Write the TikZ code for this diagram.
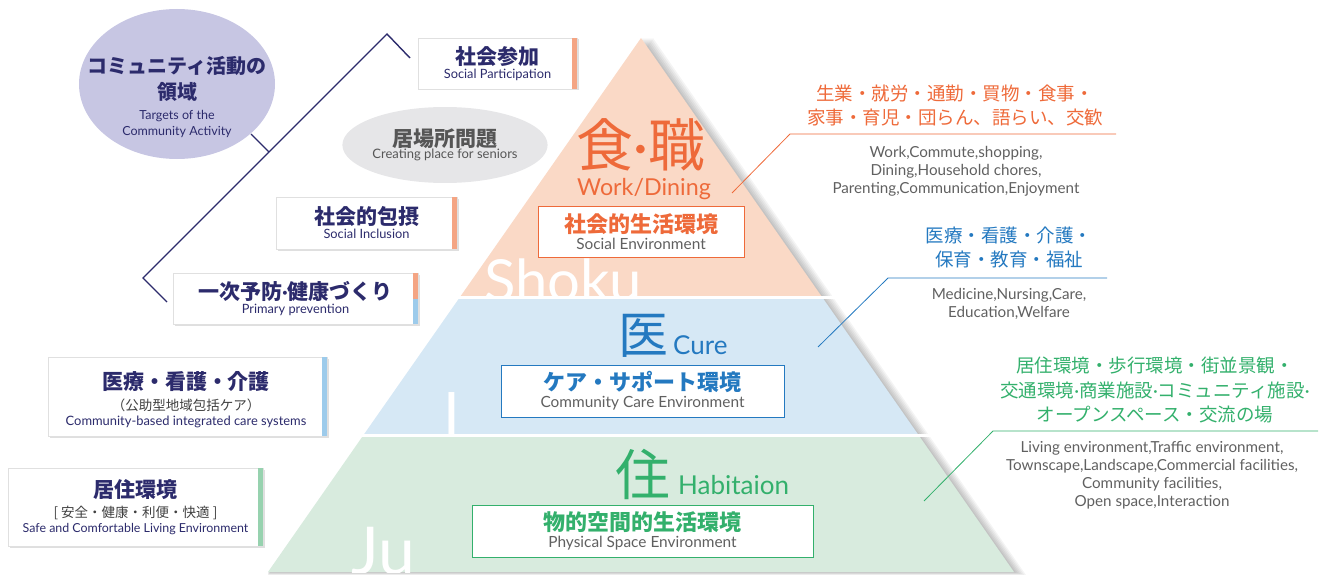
\documentclass[tikz,border=0pt]{standalone}
\usepackage{fontspec}
\setmainfont{Lato}
\newfontfamily\jp{Noto Sans CJK JP}
\usetikzlibrary{shadows,shapes.geometric}
\definecolor{navy}{HTML}{2C2B6C}
\definecolor{lav}{HTML}{C7C6E3}
\definecolor{org}{HTML}{EE6A3A}
\definecolor{orgbar}{HTML}{F4A584}
\definecolor{peach}{HTML}{FAD9C6}
\definecolor{blu}{HTML}{2479C0}
\definecolor{blubar}{HTML}{9DCBEB}
\definecolor{lblu}{HTML}{D6E8F5}
\definecolor{grn}{HTML}{33B06C}
\definecolor{grnbar}{HTML}{97D2AF}
\definecolor{lgrn}{HTML}{D8EBDE}
\definecolor{txtgray}{HTML}{606060}
\definecolor{ellgray}{HTML}{E6E6E8}
\newcommand\hdJ{\jp\bfseries\fontsize{21}{24}\selectfont}
\newcommand\subE{\rmfamily\mdseries\fontsize{12.8}{15}\selectfont}
\newcommand\envJ{\jp\bfseries\fontsize{22}{24}\selectfont}
\newcommand\envE{\rmfamily\mdseries\fontsize{15.4}{16}\selectfont\color{txtgray}}
\newcommand\ellJ{\jp\bfseries\fontsize{20}{26}\selectfont}
\newcommand\ellE{\rmfamily\fontsize{12.5}{16}\selectfont}
\tikzset{
  card/.style={fill=white, draw=black!12, line width=0.5pt,
    drop shadow={shadow xshift=1.5pt, shadow yshift=-1.5pt, opacity=0.25},
    inner sep=0pt, align=center, text=navy},
  envbox/.style={fill=white, line width=0.9pt, inner sep=0pt, align=center},
  bigw/.style={text=white, font=\fontsize{58}{58}\selectfont, inner sep=0pt},
  lead/.style={line width=0.8pt},
  listJ/.style={font=\jp\fontsize{18.5}{24.5}\selectfont, align=center, inner sep=0pt},
  listE/.style={text=txtgray, font=\fontsize{15.2}{18}\selectfont, align=center, inner sep=0pt},
  brk/.style={draw=navy, line width=1.4pt}
}
\begin{document}
\begin{tikzpicture}[x=1pt,y=-1pt]
\useasboundingbox (0,0) rectangle (1322,575);

% ---------- pyramid ----------
\coordinate (apex) at (641,38);
\coordinate (l1) at (460,297); \coordinate (r1) at (822,297);
\coordinate (l2) at (363.5,435); \coordinate (r2) at (918.5,435);
\coordinate (bl) at (268,572); \coordinate (br) at (1014,572);

\foreach \s in {2,4,6,8,10,12}{
  \fill[black,opacity=0.045] ([xshift=\s pt]apex) -- ([xshift=\s pt,yshift=-0.25*\s pt]br)
     -- ([yshift=-0.25*\s pt]bl) -- cycle;
}
\fill[peach] (apex) -- (r1) -- (l1) -- cycle;
\fill[lblu] (l1) -- (r1) -- (r2) -- (l2) -- cycle;
\fill[lgrn] (l2) -- (r2) -- (br) -- (bl) -- cycle;

\begin{scope}
  \clip (apex) -- (r1) -- (l1) -- cycle;
  \node[bigw, anchor=base west] (shokuW) at (484,301) {Shoku};
\end{scope}
\begin{scope}
  \clip (l1) -- (r1) -- (r2) -- (l2) -- cycle;
  \node[bigw, font=\fontsize{60}{60}\selectfont, anchor=base west] (iW) at (443,435) {I};
\end{scope}
\begin{scope}
  \clip (l2) -- (r2) -- (br) -- (bl) -- cycle;
  \node[bigw, font=\fontsize{66}{66}\selectfont, anchor=base west] (juW) at (351,574) {Ju};
\end{scope}

\draw[white, line width=3pt] (440,297) -- (840,297);
\draw[white, line width=3pt] (340,435) -- (940,435);

% top band
\node[text=org, font=\jp\fontsize{57}{57}\selectfont, inner sep=0pt] (shokuK) at (641,145) {食{\rmfamily ·}職};
\node[text=org, font=\fontsize{23.3}{23}\selectfont, inner sep=0pt] (workD) at (644,189) {Work/Dining};
\node[envbox, draw=org, minimum width=206, minimum height=51] (socEnv) at (641,231.5)
  {{\envJ\color{org}社会的生活環境}\\[2.5pt]{\envE Social Environment}};

% middle band
\node[text=blu, font=\jp\fontsize{50}{50}\selectfont, inner sep=0pt] (iK) at (643,336) {医};
\node[text=blu, font=\fontsize{26}{26}\selectfont, inner sep=0pt, anchor=base west] (cure) at (673,354) {Cure};
\node[envbox, draw=blu, minimum width=283, minimum height=52] (careEnv) at (642.5,391)
  {{\envJ\color{blu}ケア・サポート環境}\\[2.5pt]{\envE Community Care Environment}};

% bottom band
\node[text=grn, font=\jp\fontsize{55}{55}\selectfont, inner sep=0pt] (juK) at (642.5,474) {住};
\node[text=grn, font=\fontsize{26}{26}\selectfont, inner sep=0pt, anchor=base west] (habit) at (678,494) {Habitaion};
\node[envbox, draw=grn, minimum width=341, minimum height=52] (physEnv) at (642.5,531)
  {{\envJ\color{grn}物的空間的生活環境}\\[2.5pt]{\envE Physical Space Environment}};

% ---------- right side ----------
\node[listJ, text=org] (orgJ) at (955,105.5) {生業・就労・通勤・買物・食事・\\家事・育児・団らん、語らい、交歓};
\node[listE] (orgE) at (956,171) {Work,Commute,shopping,\\Dining,Household chores,\\Parenting,Communication,Enjoyment};
\coordinate (oA) at (732,193); \coordinate (oB) at (790,134); \coordinate (oC) at (1116,134);
\draw[lead, org] (oA) -- (oB) -- (oC);

\node[listJ, text=blu] (bluJ) at (1009,247.5) {医療・看護・介護・\\保育・教育・福祉};
\node[listE] (bluE) at (1009,304) {Medicine,Nursing,Care,\\Education,Welfare};
\coordinate (bA) at (818,347); \coordinate (bB) at (888,278); \coordinate (bC) at (1107,278);
\draw[lead, blu] (bA) -- (bB) -- (bC);

\node[listJ, text=grn] (grnJ) at (1155,390) {居住環境・歩行環境・街並景観・\\交通環境{\rmfamily ·}商業施設{\rmfamily ·}コミュニティ施設{\rmfamily ·}\\オープンスペース・交流の場};
\node[listE] (grnE) at (1152,475.5) {Living environment,Traffic environment,\\Townscape,Landscape,Commercial facilities,\\Community facilities,\\Open space,Interaction};
\coordinate (gA) at (924,501); \coordinate (gB) at (993,431); \coordinate (gC) at (1318,431);
\draw[lead, grn] (gA) -- (gB) -- (gC);

% ---------- left side ----------
\node[ellipse, fill=lav, minimum width=196, minimum height=150, inner sep=0pt] (comm) at (177,84) {};
\node[text=navy, align=center, inner sep=0pt] (commT) at (177,97)
  {{\ellJ コミュニティ活動の}\\[6pt]{\ellJ 領域}\\[8pt]{\ellE Targets of the}\\[4pt]{\ellE Community Activity}};

\node[ellipse, fill=ellgray, minimum width=176, minimum height=76, inner sep=0pt, align=center, text=txtgray!90!black] (ibasho) at (445,145)
  {{\jp\bfseries\fontsize{21}{22}\selectfont 居場所問題}\\{\fontsize{13}{13}\selectfont Creating place for seniors}};

\node[card, minimum width=159, minimum height=51] (sp) at (497.5,63.5)
  {{\hdJ 社会参加}\\[2pt]{\subE Social Participation}};
\fill[orgbar] (sp.north east) rectangle ([xshift=-5pt]sp.south east);

\node[card, minimum width=181, minimum height=52] (si) at (366.5,223)
  {{\hdJ 社会的包摂}\\[2pt]{\subE Social Inclusion}};
\fill[orgbar] (si.north east) rectangle ([xshift=-5pt]si.south east);

\node[card, minimum width=245, minimum height=51] (pp) at (295.5,298.5)
  {{\hdJ 一次予防{\rmfamily ·}健康づくり}\\[2pt]{\subE Primary prevention}};
\fill[orgbar] (pp.north east) rectangle ([xshift=-5pt]pp.east);
\fill[blubar] (pp.east) rectangle ([xshift=-5pt]pp.south east);

\node[card, minimum width=279, minimum height=79] (mc) at (187.5,396.5) {};
\fill[blubar] (mc.north east) rectangle ([xshift=-5pt]mc.south east);
\node[text=navy, align=center, inner sep=0pt] (mcT) at (186,399.5)
  {{\hdJ 医療・看護・介護}\\[6pt]{\jp\fontsize{13.5}{18}\selectfont\color{black!75}（公助型地域包括ケア）}\\[3pt]{\fontsize{12.9}{16}\selectfont Community-based integrated care systems}};

\node[card, minimum width=255, minimum height=78] (le) at (135.5,507)
  {{\hdJ 居住環境}\\[5.5pt]{\jp\fontsize{13.5}{18}\selectfont\color{black!75}[ 安全・健康・利便・快適 ]}\\[3pt]{\fontsize{12.4}{16}\selectfont Safe and Comfortable Living Environment}};
\fill[grnbar] (le.north east) rectangle ([xshift=-5pt]le.south east);

% bracket
\coordinate (kA) at (167,302); \coordinate (kB) at (143,278);
\coordinate (kC) at (387,34); \coordinate (kD) at (410,58);
\coordinate (kE) at (269,152); \coordinate (kF) at (251,134);
\draw[brk] (kA) -- (kB) -- (kC) -- (kD);
\draw[brk] (kE) -- (kF);
\end{tikzpicture}
\end{document}
